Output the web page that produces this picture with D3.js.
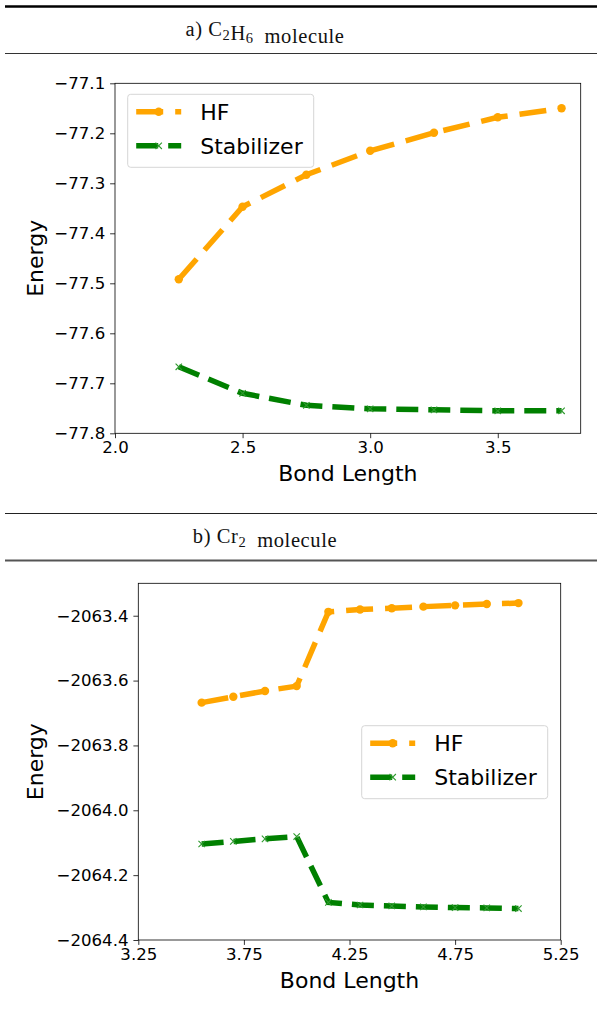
<!DOCTYPE html>
<html>
<head>
<meta charset="utf-8">
<script src="https://cdn.jsdelivr.net/npm/d3@7"></script>
<style>
  body { margin: 0; background: #fff; }
  text { font-family: "DejaVu Sans", sans-serif; }
  .hdr { font-family: "Liberation Serif", "DejaVu Serif", serif; }
</style>
</head>
<body>
<div id="root"></div>
<script>
// C2H6 panel
const c2h6Bond = [2.25, 2.5, 2.75, 3.0, 3.25, 3.5, 3.75];
const c2h6HF = [-77.492, -77.347, -77.283, -77.235, -77.199, -77.168, -77.150];
const c2h6Stab = [-77.667, -77.720, -77.744, -77.751, -77.753, -77.755, -77.755];
const c2h6XTicks = [2.0, 2.5, 3.0, 3.5];
const c2h6YTicks = [-77.8, -77.7, -77.6, -77.5, -77.4, -77.3, -77.2, -77.1];

// Cr2 panel
const cr2Bond = [3.55, 3.7, 3.85, 4.0, 4.15, 4.3, 4.45, 4.6, 4.75, 4.9, 5.05];
const cr2HF = [-2063.668, -2063.650, -2063.632, -2063.617, -2063.388, -2063.381,
  -2063.377, -2063.372, -2063.368, -2063.364, -2063.361];
const cr2Stab = [-2064.104, -2064.096, -2064.088, -2064.081, -2064.284, -2064.292,
  -2064.295, -2064.298, -2064.300, -2064.301, -2064.303];
const cr2XTicks = [3.25, 3.75, 4.25, 4.75, 5.25];
const cr2YTicks = [-2064.4, -2064.2, -2064.0, -2063.8, -2063.6, -2063.4];

const seriesNames = ["HF", "Stabilizer"];

const W = 597, H = 1017;
const svg = d3.select("#root").append("svg")
  .attr("width", W).attr("height", H);

const orange = "#ffa500", green = "#008000";
const minus = s => s.replace("-", "\u2212");

// header rows, table style
const drawHeader = (y0, thick0, y1, thick1, parts) => {
  svg.append("line").attr("x1", 5).attr("x2", W).attr("y1", y0).attr("y2", y0)
    .attr("stroke", thick0 ? "#000" : "#222").attr("stroke-width", thick0 ? 2.4 : 1.2);
  svg.append("line").attr("x1", 5).attr("x2", W).attr("y1", y1).attr("y2", y1)
    .attr("stroke", thick1 ? "#555" : "#333").attr("stroke-width", thick1 ? 2 : 1.2);
  let t = svg.append("text").attr("class", "hdr")
    .attr("x", 265).attr("y", (y0 + y1) / 2 + 6)
    .attr("text-anchor", "middle").attr("font-size", 20.5)
    .attr("letter-spacing", 0.6).attr("fill", "#111");
  parts.forEach(p => {
    if (p.sub) {
      t.append("tspan").attr("font-size", 14.5).attr("dy", 3.5).text(p.sub);
      t.append("tspan").attr("dy", -3.5).text("");
    } else {
      t.append("tspan").text(p.t);
    }
  });
};

drawHeader(6.5, true, 53.5, false,
  [{ t: "a) C" }, { sub: "2" }, { t: "H" }, { sub: "6" }, { t: "\u2002molecule" }]);
drawHeader(513.5, false, 560.5, true,
  [{ t: "b) Cr" }, { sub: "2" }, { t: "\u2002molecule" }]);

const drawPanel = (p) => {
  let x = d3.scaleLinear().domain(p.xDomain).range([p.left, p.right]);
  let y = d3.scaleLinear().domain(p.yDomain).range([p.bottom, p.top]);
  let g = svg.append("g");

  let line = d3.line()
    .x(d => x(d.x))
    .y(d => y(d.y));

  const series = [
    { name: seriesNames[0], values: p.hf, color: orange, dash: "27,12", marker: "o" },
    { name: seriesNames[1], values: p.stab, color: green, dash: "22,10", marker: "x" }
  ];

  series.forEach(s => {
    let pts = p.bond.map((b, i) => ({ x: b, y: s.values[i] }));
    g.append("path")
      .datum(pts)
      .attr("d", line)
      .attr("fill", "none")
      .attr("stroke", s.color)
      .attr("stroke-width", 5.5)
      .attr("stroke-dasharray", s.dash);
    drawMarkers(g, pts.map(d => [x(d.x), y(d.y)]), s);
  });

  // axes
  g.append("g")
    .attr("transform", "translate(0," + p.bottom + ")")
    .call(d3.axisBottom(x).tickValues(p.xTicks).tickSize(4.9).tickPadding(3.5)
      .tickFormat(d => minus(d3.format(p.xFmt)(d))))
    .call(ax => ax.select(".domain").remove())
    .call(ax => ax.selectAll("line").attr("stroke-width", 0.8))
    .call(ax => ax.selectAll("text").attr("font-size", 16.6).attr("fill", "#000"));

  g.append("g")
    .attr("transform", "translate(" + p.left + ",0)")
    .call(d3.axisLeft(y).tickValues(p.yTicks).tickSize(4.9).tickPadding(4.9)
      .tickFormat(d => minus(d3.format(".1f")(d))))
    .call(ax => ax.select(".domain").remove())
    .call(ax => ax.selectAll("line").attr("stroke-width", 0.8))
    .call(ax => ax.selectAll("text").attr("font-size", 16.6).attr("fill", "#000"));

  g.append("rect")
    .attr("x", p.left).attr("y", p.top)
    .attr("width", p.right - p.left).attr("height", p.bottom - p.top)
    .attr("fill", "none").attr("stroke", "#000").attr("stroke-width", 0.8);

  g.append("text")
    .attr("x", (p.left + p.right) / 2).attr("y", p.xLabelY)
    .attr("text-anchor", "middle").attr("font-size", 22)
    .text("Bond Length");

  g.append("text")
    .attr("transform", "translate(" + 43 + "," + (p.top + p.bottom) / 2 + ") rotate(-90)")
    .attr("text-anchor", "middle").attr("font-size", 22)
    .text("Energy");

  // legend
  let lg = g.append("g").attr("transform", "translate(" + p.legX + "," + p.legY + ")");
  lg.append("rect")
    .attr("width", 186).attr("height", 73).attr("rx", 3)
    .attr("fill", "#fff").attr("fill-opacity", 0.8)
    .attr("stroke", "#d6d6d6").attr("stroke-width", 1);
  series.forEach((s, i) => {
    let ly = 17.5 + i * 34;
    lg.append("line")
      .attr("x1", 8.5).attr("x2", 53.5).attr("y1", ly).attr("y2", ly)
      .attr("stroke", s.color).attr("stroke-width", 5.5)
      .attr("stroke-dasharray", s.dash);
    drawMarkers(lg, [[31, ly]], s);
    lg.append("text")
      .attr("x", 72.5).attr("y", ly + 8)
      .attr("font-size", 22).text(s.name);
  });
};

function drawMarkers(g, xy, s) {
  if (s.marker === "o") {
    g.selectAll(null).data(xy).enter().append("circle")
      .attr("cx", d => d[0]).attr("cy", d => d[1]).attr("r", 4.2)
      .attr("fill", s.color);
  } else {
    g.selectAll(null).data(xy).enter().append("path")
      .attr("d", d => "M" + (d[0] - 3.2) + "," + (d[1] - 3.2) + "L" + (d[0] + 3.2) + "," + (d[1] + 3.2) +
        "M" + (d[0] - 3.2) + "," + (d[1] + 3.2) + "L" + (d[0] + 3.2) + "," + (d[1] - 3.2))
      .attr("stroke", "#2e9a2e").attr("stroke-width", 1.1).attr("fill", "none");
  }
}

drawPanel({
  bond: c2h6Bond, hf: c2h6HF, stab: c2h6Stab,
  xDomain: [2.0, 3.825], yDomain: [-77.8, -77.1],
  xTicks: c2h6XTicks, yTicks: c2h6YTicks, xFmt: ".1f",
  left: 115, right: 580.7, top: 83.3, bottom: 433.3,
  xLabelY: 481, legX: 127.7, legY: 94.3
});

drawPanel({
  bond: cr2Bond, hf: cr2HF, stab: cr2Stab,
  xDomain: [3.25, 5.25], yDomain: [-2064.4, -2063.3],
  xTicks: cr2XTicks, yTicks: cr2YTicks, xFmt: ".2f",
  left: 138.3, right: 560.7, top: 583.3, bottom: 940,
  xLabelY: 988, legX: 361.7, legY: 725.7
});
</script>
</body>
</html>
